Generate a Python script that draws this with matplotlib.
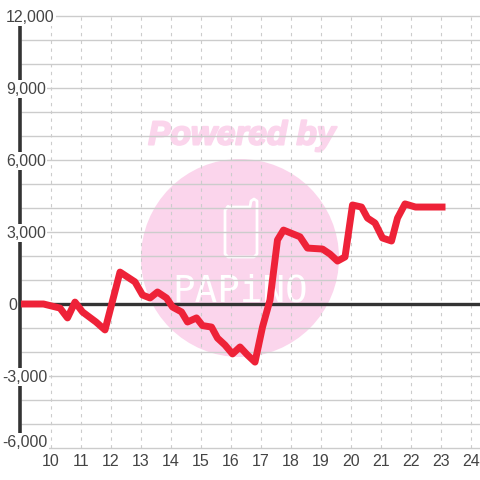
import matplotlib
matplotlib.use("Agg")
import matplotlib.pyplot as plt
import matplotlib.patheffects as pe
from matplotlib.patches import Circle
from matplotlib.transforms import blended_transform_factory

# chart data
hours = [9.0, 9.75, 10.3, 10.55, 10.8, 11.05, 11.5, 11.8, 12.3, 12.8, 13.05, 13.3, 13.55,
         13.85, 14.05, 14.35, 14.55, 14.85, 15.05, 15.35, 15.55, 15.8, 16.05, 16.3, 16.55,
         16.8, 17.05, 17.3, 17.55, 17.75, 18.3, 18.55, 19.05, 19.3, 19.55, 19.8, 20.05,
         20.35, 20.55, 20.8, 21.05, 21.35, 21.55, 21.8, 22.15, 23.15]
profit = [0, 0, -170, -580, 80, -330, -750, -1080, 1330, 920, 375, 250, 500,
          250, -125, -330, -750, -580, -900, -960, -1420, -1710, -2080, -1790, -2125,
          -2420, -960, 170, 2670, 3080, 2800, 2330, 2290, 2080, 1790, 1960, 4125,
          4040, 3580, 3375, 2750, 2625, 3580, 4170, 4040, 4040]
y_labels = ["12,000", "9,000", "6,000", "3,000", "0", "-3,000", "-6,000"]
y_label_pos = [11950, 8950, 5950, 2950, -50, -3050, -5760]
y_label_left = [6, 6, 6, 6, 8, 2, 2]
y_grid = list(range(-6000, 12001, 1000))
x_ticks = list(range(10, 25))

plt.rcParams["font.family"] = ["Liberation Sans", "DejaVu Sans"]
PINK = "#fbd5ec"
GRID = "#cccccc"
DARK = "#333333"

fig = plt.figure(figsize=(4.8, 4.8), dpi=100, facecolor="white")

# watermark sits behind the chart, laid out in pixels
bg = fig.add_axes([0, 0, 1, 1])
bg.set_xlim(0, 480)
bg.set_ylim(480, 0)
bg.axis("off")
bg.add_patch(Circle((240, 258), 99, color=PINK, lw=0))
bg.text(242, 136, "Powered by", color=PINK, fontsize=24, fontweight="bold", style="italic",
        ha="center", va="center",
        path_effects=[pe.withStroke(linewidth=1.5, foreground=PINK)])
phone_x = [228, 250, 251, 254, 257, 257, 254, 228, 225, 225, 228]
phone_y = [207, 207, 201, 199, 201, 254, 257, 257, 254, 210, 207]
bg.plot(phone_x, phone_y, color="white", lw=2, solid_joinstyle="round")
bg.text(240, 291, "PAPiNO", color="white", fontsize=27, family="DejaVu Sans Mono",
        ha="center", va="center")

ax = fig.add_axes([0, 0, 1, 1])
ax.patch.set_alpha(0)
ax.set_xlim(8.3, 24.3)
ax.set_ylim(-7333.3, 12666.7)
for s in ax.spines.values():
    s.set_visible(False)
ax.set_xticks([])
ax.set_yticks([])

ax.hlines(y_grid, 9, 24.3, color=GRID, lw=1, zorder=1)
ax.vlines(x_ticks, -6000, 12000, color=GRID, lw=0.8, linestyles=(0, (3, 4)), zorder=1)
ax.plot([9, 24.3], [0, 0], color=DARK, lw=2.4, zorder=2)
ax.plot([8.97, 8.97], [-5500, 11670], color=DARK, lw=2.6, solid_capstyle="butt", zorder=2)

ax.plot(hours, profit, color="#ee2238", lw=5, solid_joinstyle="round",
        solid_capstyle="butt", zorder=3)

px_y = blended_transform_factory(bg.transData, ax.transData)
for lab, pos, left in zip(y_labels, y_label_pos, y_label_left):
    ax.text(left, pos, lab, transform=px_y, ha="left", va="center", fontsize=11.5, color="#444444",
            zorder=4, bbox=dict(facecolor="white", edgecolor="none", pad=1))
for t in x_ticks:
    ax.text(t, -6560, str(t), ha="center", va="center", fontsize=11.5, color="#444444", zorder=4)

fig.savefig("out.png", dpi=100)
